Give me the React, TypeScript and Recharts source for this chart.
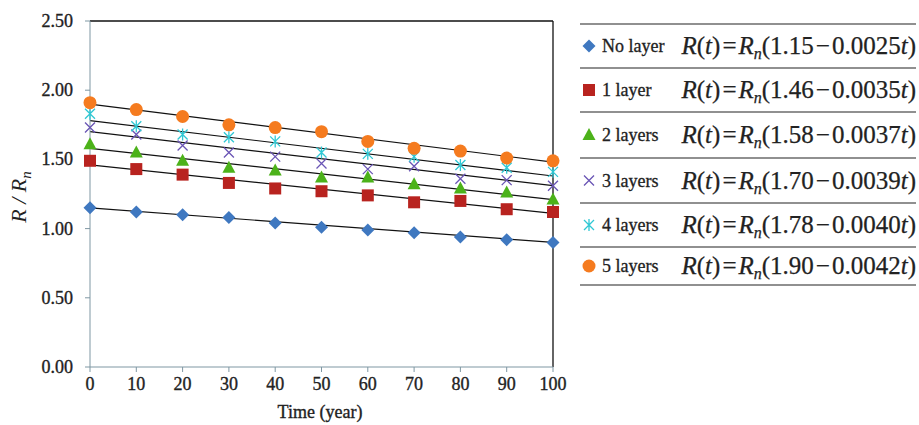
import React from "react";
import {
  ComposedChart,
  Scatter,
  Line,
  XAxis,
  YAxis,
  ReferenceLine,
} from "recharts";

// time points (years)
const years = [0, 10, 20, 30, 40, 50, 60, 70, 80, 90, 100];

// measured R / Rn per layer count
const noLayer = [1.15, 1.12, 1.1, 1.08, 1.04, 1.01, 0.99, 0.97, 0.94, 0.92, 0.9];
const oneLayer = [1.49, 1.43, 1.39, 1.33, 1.29, 1.27, 1.24, 1.19, 1.2, 1.14, 1.12];
const twoLayers = [1.61, 1.55, 1.49, 1.44, 1.42, 1.37, 1.37, 1.32, 1.29, 1.26, 1.21];
const threeLayers = [1.73, 1.68, 1.6, 1.55, 1.52, 1.47, 1.43, 1.45, 1.36, 1.35, 1.31];
const fourLayers = [1.83, 1.74, 1.68, 1.66, 1.63, 1.55, 1.54, 1.52, 1.46, 1.44, 1.41];
const fiveLayers = [1.91, 1.86, 1.81, 1.75, 1.73, 1.7, 1.63, 1.58, 1.56, 1.51, 1.49];

// fitted line values at t = 0 and t = 100
const fitStart = [1.15, 1.46, 1.58, 1.7, 1.78, 1.9];
const fitEnd = [0.9, 1.11, 1.21, 1.31, 1.38, 1.48];

const seriesNames = ["No layer", "1 layer", "2 layers", "3 layers", "4 layers", "5 layers"];
const intercepts = ["1.15", "1.46", "1.58", "1.70", "1.78", "1.90"];
const slopes = ["0.0025", "0.0035", "0.0037", "0.0039", "0.0040", "0.0042"];

const xTicks = [0, 10, 20, 30, 40, 50, 60, 70, 80, 90, 100];
const yTicks = [0, 0.5, 1, 1.5, 2, 2.5];

const allSeries = [noLayer, oneLayer, twoLayers, threeLayers, fourLayers, fiveLayers];
const kinds = ["diamond", "square", "triangle", "cross", "star", "circle"];
const colors = ["#3f78c0", "#b8231f", "#4cb21a", "#6a55b5", "#30c8d4", "#f57b1f"];

const FONT = "'Liberation Serif', 'Times New Roman', serif";
const axisColor = "#7f97a3";

function Marker({ kind, cx, cy, color }: { kind: string; cx: number; cy: number; color: string }) {
  if (cx == null || cy == null) return null;
  switch (kind) {
    case "diamond":
      return <path d={`M${cx},${cy - 6.5}L${cx + 6.5},${cy}L${cx},${cy + 6.5}L${cx - 6.5},${cy}Z`} fill={color} />;
    case "square":
      return <rect x={cx - 6} y={cy - 6} width={12} height={12} fill={color} />;
    case "triangle":
      return <path d={`M${cx},${cy - 7}L${cx + 6.5},${cy + 5}L${cx - 6.5},${cy + 5}Z`} fill={color} />;
    case "cross":
      return (
        <path
          d={`M${cx - 5},${cy - 5}L${cx + 5},${cy + 5}M${cx - 5},${cy + 5}L${cx + 5},${cy - 5}`}
          stroke={color}
          strokeWidth={1.3}
          fill="none"
        />
      );
    case "star":
      return (
        <path
          d={`M${cx - 5},${cy - 5}L${cx + 5},${cy + 5}M${cx - 5},${cy + 5}L${cx + 5},${cy - 5}M${cx},${cy - 6}L${cx},${cy + 6}`}
          stroke={color}
          strokeWidth={1.3}
          fill="none"
        />
      );
    default:
      return <circle cx={cx} cy={cy} r={6.5} fill={color} />;
  }
}

const XTick = (props: any) => {
  const { x, y, payload } = props;
  return (
    <text x={x} y={y + 16} textAnchor="middle" fontFamily={FONT} fontSize={18} fill="#222" stroke="#222" strokeWidth={0.35}>
      {payload.value}
    </text>
  );
};

const YTick = (props: any) => {
  const { x, y, payload } = props;
  return (
    <text x={x - 10} y={y + 6} textAnchor="end" fontFamily={FONT} fontSize={18} fill="#222" stroke="#222" strokeWidth={0.35}>
      {Number(payload.value).toFixed(2)}
    </text>
  );
};

const rowLines = [24, 68, 112, 158, 203, 247, 285];

export default function App() {
  const scatterData = allSeries.map((vals) => vals.map((v, i) => ({ t: years[i], v })));
  const fitData = fitStart.map((s, i) => [
    { t: years[0], v: s },
    { t: years[years.length - 1], v: fitEnd[i] },
  ]);

  return (
    <div style={{ position: "absolute", left: 0, top: 0, width: 919, height: 425, background: "#fff" }}>
      <ComposedChart width={919} height={425} margin={{ top: 21, right: 366, bottom: 0, left: 0 }}>
        <XAxis
          dataKey="t"
          type="number"
          domain={[0, 100]}
          ticks={xTicks}
          interval={0}
          height={58}
          stroke={axisColor}
          tickSize={5}
          tick={<XTick />}
          allowDuplicatedCategory={false}
        />
        <YAxis
          dataKey="v"
          type="number"
          domain={[0, 2.5]}
          ticks={yTicks}
          interval={0}
          width={90}
          stroke={axisColor}
          tickSize={5}
          tick={<YTick />}
        />
        <ReferenceLine y={2.5} stroke="#111" strokeWidth={1.3} />
        <ReferenceLine x={100} stroke="#111" strokeWidth={1.3} />
        {fitData.map((d, i) => (
          <Line
            key={"fit" + i}
            data={d}
            dataKey="v"
            type="linear"
            stroke="#111"
            strokeWidth={1.2}
            dot={false}
            activeDot={false}
            isAnimationActive={false}
          />
        ))}
        {scatterData.map((d, i) => (
          <Scatter
            key={"s" + i}
            data={d}
            dataKey="v"
            isAnimationActive={false}
            shape={(p: any) => <Marker kind={kinds[i]} cx={p.cx} cy={p.cy} color={colors[i]} />}
          />
        ))}
      </ComposedChart>
      <svg width={919} height={425} style={{ position: "absolute", left: 0, top: 0, pointerEvents: "none" }}>
        <text
          x={320}
          y={418}
          textAnchor="middle"
          fontFamily={FONT}
          fontSize={18}
          fill="#222"
          stroke="#222"
          strokeWidth={0.35}
        >
          Time (year)
        </text>
        <text
          x={26}
          y={197}
          textAnchor="middle"
          fontFamily={FONT}
          fontSize={22}
          fontStyle="italic"
          fill="#222"
          transform="rotate(-90, 26, 197)"
        >
          R / R
          <tspan fontSize={15} dy={5}>n</tspan>
        </text>
        {rowLines.map((y) => (
          <line key={y} x1={580} x2={916} y1={y} y2={y} stroke="#222" strokeWidth={1.2} />
        ))}
        {seriesNames.map((name, i) => {
          const cy = (rowLines[i] + rowLines[i + 1]) / 2;
          return (
            <g key={name}>
              <Marker kind={kinds[i]} cx={589} cy={cy} color={colors[i]} />
              <text
                x={602}
                y={cy + 6}
                fontFamily={FONT}
                fontSize={18}
                fill="#222"
                stroke="#222"
                strokeWidth={0.3}
              >
                {name}
              </text>
              <text x={916} y={cy + 8} textAnchor="end" fontFamily={FONT} fontSize={25} fill="#222" stroke="#222" strokeWidth={0.25}>
                <tspan fontStyle="italic">R</tspan>(<tspan fontStyle="italic">t</tspan>)
                <tspan dx={2}>=</tspan>
                <tspan dx={2} fontStyle="italic">R</tspan>
                <tspan fontStyle="italic" fontSize={16} dy={5}>n</tspan>
                <tspan dy={-5}>({intercepts[i]}</tspan>
                <tspan dx={2}>−</tspan>
                <tspan dx={2}>{slopes[i]}</tspan>
                <tspan fontStyle="italic">t</tspan>)
              </text>
            </g>
          );
        })}
      </svg>
    </div>
  );
}
